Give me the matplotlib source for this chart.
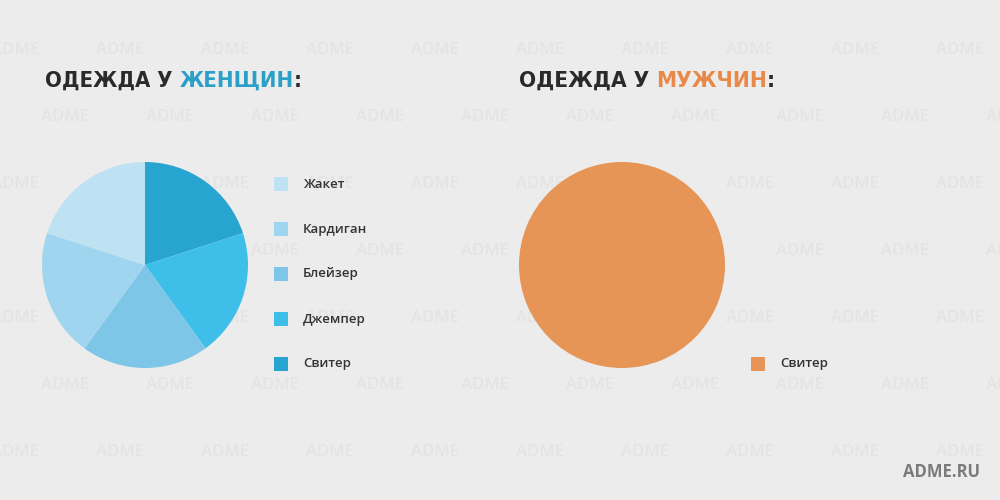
import matplotlib.pyplot as plt
from matplotlib.patches import Rectangle
from matplotlib import font_manager

# data
women_labels = ["Свитер", "Джемпер", "Блейзер", "Кардиган", "Жакет"]
women_values = [20, 20, 20, 20, 20]
women_colors = ["#27a4cf", "#3ebfe9", "#7ec6e7", "#a0d5ef", "#bfe2f3"]

men_labels = ["Свитер"]
men_values = [100]
men_colors = ["#e79457"]

bg = "#ececec"

# look for a narrow bold face for the titles
files = [f.fname for f in font_manager.fontManager.ttflist]
prefs = ["NotoSans-ExtraCondensedBlack", "NotoSans-ExtraCondensedExtraBold",
         "NotoSans-ExtraCondensedBold", "NotoSans-CondensedExtraBold",
         "NotoSans-CondensedBold", "LiberationSansNarrow-Bold",
         "DejaVuSansCondensed-Bold"]
title_font = None
for p in prefs:
    hit = [f for f in files if p in f]
    if hit:
        title_font = font_manager.FontProperties(fname=hit[0])
        break
if title_font is None:
    title_font = font_manager.FontProperties(family="DejaVu Sans", weight="bold",
                                             stretch="condensed")

fig = plt.figure(figsize=(10, 5), dpi=100)
fig.patch.set_facecolor(bg)

# faint ADME watermark behind everything
wm = fig.add_axes([0, 0, 1, 1], zorder=-5)
wm.set_xlim(0, 1000)
wm.set_ylim(500, 0)
wm.axis("off")
for r, y in enumerate(range(50, 500, 67)):
    off = 15 if r % 2 == 0 else 65
    for x in range(off, 1050, 105):
        wm.text(x, y, "ADME", fontsize=12, fontweight="semibold",
                color="#e4e4e4", ha="center", va="center", family="Open Sans")


def title(x, word, color):
    # size chosen so that the whole title is about 255 px wide
    size = 22
    probe = fig.text(0, 0, "ОДЕЖДА У " + word + ":", fontproperties=title_font,
                     fontsize=size)
    fig.canvas.draw()
    w = probe.get_window_extent().width
    probe.remove()
    size = min(size * 255 / w, 24)
    kw = dict(fontproperties=title_font, fontsize=size, va="baseline")
    yb = 1 - 87 / 500
    t = fig.text(x, yb, "ОДЕЖДА У ", color="#2a2a2a", **kw)
    fig.canvas.draw()
    bb = t.get_window_extent()
    t2 = fig.text(bb.x1 / 1000, yb, word, color=color, **kw)
    fig.canvas.draw()
    bb2 = t2.get_window_extent()
    fig.text(bb2.x1 / 1000, yb, ":", color="#2a2a2a", **kw)


def pie(cx, values, colors):
    ax = fig.add_axes([(cx - 103) / 1000, (500 - 368) / 500, 0.206, 0.412])
    ax.pie(values, colors=colors, startangle=90, counterclock=False,
           wedgeprops=dict(linewidth=0))
    ax.set_xlim(-1, 1)
    ax.set_ylim(-1, 1)
    ax.set_facecolor("none")
    return ax


def legend(x, labels, colors, y_start):
    for i, (lab, col) in enumerate(zip(labels, colors)):
        y = y_start + i * 45
        fig.add_artist(Rectangle((x / 1000, 1 - (y + 7) / 500), 0.014, 0.028,
                                 transform=fig.transFigure, facecolor=col,
                                 edgecolor="none"))
        fig.text((x + 29) / 1000, 1 - y / 500, lab, fontsize=9.5,
                 color="#333333", va="center", family="Open Sans",
                 fontweight="semibold")


title(0.045, "ЖЕНЩИН", "#2a9fc8")
title(0.519, "МУЖЧИН", "#e8894a")

pie(145, women_values, women_colors)
pie(622, men_values, men_colors)

legend(274, women_labels[::-1], women_colors[::-1], 184)
legend(751, men_labels, men_colors, 364)

fig.text(0.98, 1 - 472 / 500, "ADME.RU", fontsize=12, fontweight="bold",
         color="#7a7a7a", ha="right", va="center", family="Open Sans")

fig.savefig("out.png", dpi=100, facecolor=bg)
